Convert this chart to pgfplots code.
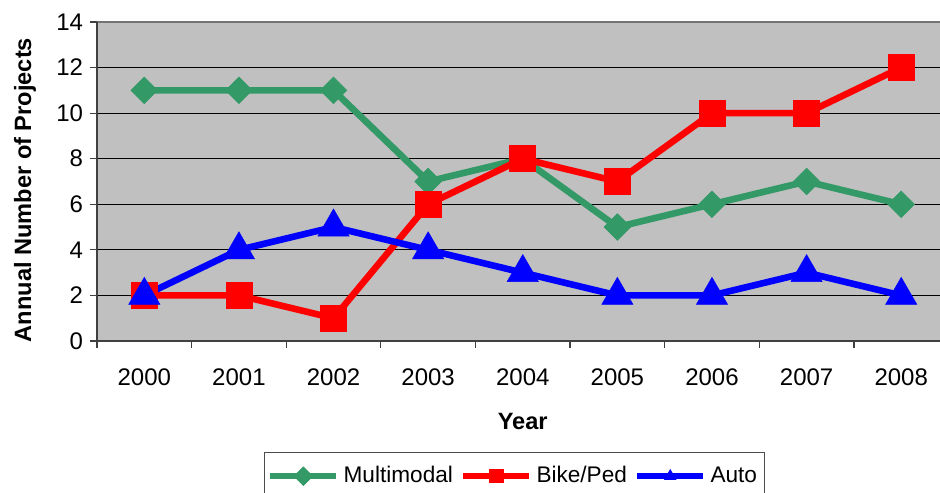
\documentclass[border=0pt]{standalone}
\usepackage{pgfplots}
\pgfplotsset{compat=1.18}
\usepackage{fontspec}
\setmainfont{Liberation Sans}
\definecolor{mgreen}{HTML}{339966}
\definecolor{bg}{HTML}{C0C0C0}
\begin{document}
\begin{tikzpicture}
\begin{axis}[
  scale only axis,
  width=421.5bp, height=159.5bp,
  xmin=-0.5, xmax=8.41, ymin=0, ymax=14,
  axis background/.style={fill=bg},
  axis line style={draw=none},
  xtick={0,...,8},
  xticklabels={2000,2001,2002,2003,2004,2005,2006,2007,2008},
  minor xtick={-0.5,0.5,1.5,2.5,3.5,4.5,5.5,6.5,7.5},
  ytick={0,2,...,14},
  major x tick style={draw=none},
  minor tick length=3.5bp,
  major tick length=3.5bp,
  tick align=outside,
  xtick pos=bottom, ytick pos=left,
  tick style={black!75, line width=0.6bp},
  ymajorgrids, grid style={black, line width=0.5bp},
  /pgf/number format/assume math mode=true,
  ticklabel style={font=\fontsize{12bp}{14bp}\selectfont},
  xticklabel style={yshift=-7bp},
  ylabel={\bfseries Annual Number of Projects},
  xlabel={\bfseries Year},
  label style={font=\fontsize{11.8bp}{14bp}\selectfont},
  ylabel style={at={(axis description cs:-0.0854,0.473)}, anchor=center},
  xlabel style={at={(axis description cs:0.505,-0.251)}, anchor=center},
  legend style={at={(axis description cs:0.4947,-0.348)}, anchor=north,
    draw=black!70, line width=0.5bp, font=\fontsize{11.3bp}{13bp}\selectfont,
    legend columns=3, inner xsep=1.5bp, inner ysep=5bp,
    /tikz/every even column/.append style={column sep=1.5bp}},
  legend image code/.code={\draw[mark repeat=2,mark phase=2,#1,mark size=3.3bp] plot coordinates {(0bp,0bp)(16.5bp,0bp)(33bp,0bp)};},
  clip=false,
]
\addplot[mgreen, line width=3.3bp, mark=square*, mark size=4.7bp, mark options={rotate=45, line width=0.3bp}]
  coordinates {(0,11)(1,11)(2,11)(3,7)(4,8)(5,5)(6,6)(7,7)(8,6)};
\addlegendentry{Multimodal}
\addplot[red, line width=3.3bp, mark=square*, mark size=6.5bp, mark options={line width=0.3bp}]
  coordinates {(0,2)(1,2)(2,1)(3,6)(4,8)(5,7)(6,10)(7,10)(8,12)};
\addlegendentry{Bike/Ped}
\addplot[blue, line width=3.3bp, mark=triangle*, mark size=9bp, mark options={line width=0.3bp}]
  coordinates {(0,2)(1,4)(2,5)(3,4)(4,3)(5,2)(6,2)(7,3)(8,2)};
\addlegendentry{Auto}
\draw[black!55, line width=1bp] (rel axis cs:0,1) -- (rel axis cs:1,1);
\draw[black!75, line width=1bp] (rel axis cs:0,0) -- (rel axis cs:0,1);
\draw[black!75, line width=1bp] (rel axis cs:0,0) -- (rel axis cs:1,0);
\end{axis}
\pgfresetboundingbox
\useasboundingbox (-48.5bp,-76bp) rectangle (421.5bp,170.5bp);
\end{tikzpicture}
\end{document}
